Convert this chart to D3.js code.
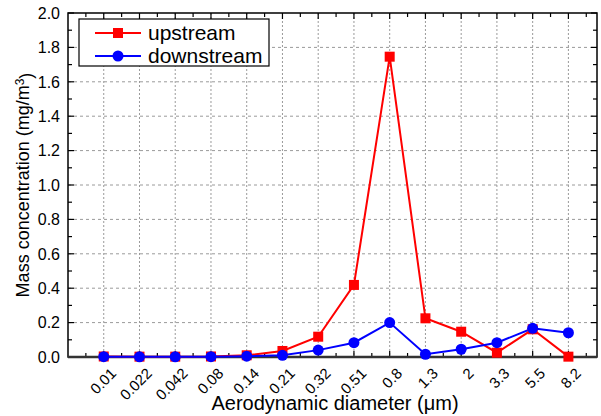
<!DOCTYPE html>
<html><head><meta charset="utf-8">
<script src="https://cdn.jsdelivr.net/npm/d3@7"></script>
<style>body{margin:0;background:#fff}svg{display:block}text{font-family:"Liberation Sans",Arial,sans-serif}</style>
</head><body><svg id="c" width="601" height="416"></svg>
<script>
const categories = ["0.01","0.022","0.042","0.08","0.14","0.21","0.32","0.51","0.8","1.3","2","3.3","5.5","8.2"];
const upstream   = [0.003,0.002,0.002,0.003,0.01,0.035,0.118,0.419,1.746,0.225,0.147,0.025,0.161,0.002];
const downstream = [0.002,0.001,0.001,0.002,0.005,0.01,0.04,0.083,0.2,0.016,0.045,0.083,0.167,0.141];
const yTicks = [0,0.2,0.4,0.6,0.8,1.0,1.2,1.4,1.6,1.8,2.0];

const svg = d3.select("#c");
const L=68,R=597,T=13,B=357;
const x = d3.scaleLinear().domain([0,14.8]).range([L,R]);
const y = d3.scaleLinear().domain([0,2]).range([B,T]);
const idx = categories.map((d,i)=>i+1);

// grid
const g = svg.append("g");
g.selectAll("line.h").data(yTicks.slice(1,-1)).join("line")
 .attr("x1",L).attr("x2",R).attr("y1",d=>y(d)).attr("y2",d=>y(d))
 .attr("stroke","#9a9a9a").attr("stroke-width",1).attr("stroke-dasharray","3,3");
g.selectAll("line.v").data(idx).join("line")
 .attr("x1",d=>x(d)).attr("x2",d=>x(d)).attr("y1",T).attr("y2",B)
 .attr("stroke","#9a9a9a").attr("stroke-width",1).attr("stroke-dasharray","2,2");

// axes ticks
const minorY = d3.range(0,2.0001,0.1);
const ax = svg.append("g").attr("stroke","#000");
minorY.forEach((v,i)=>{
  const len = (i%2===0)?6:4;
  ax.append("line").attr("x1",L).attr("x2",L+len).attr("y1",y(v)).attr("y2",y(v)).attr("stroke-width",1.2);
  ax.append("line").attr("x1",R).attr("x2",R-len).attr("y1",y(v)).attr("y2",y(v)).attr("stroke-width",1.2);
});
const minorX = d3.range(0.5,14.8,0.5);
minorX.forEach(v=>{
  const major = Math.abs(v-Math.round(v))<1e-6;
  const len = major?6:4;
  ax.append("line").attr("x1",x(v)).attr("x2",x(v)).attr("y1",B).attr("y2",B-len).attr("stroke-width",1.2);
  ax.append("line").attr("x1",x(v)).attr("x2",x(v)).attr("y1",T).attr("y2",T+len).attr("stroke-width",1.2);
});
svg.append("rect").attr("x",L).attr("y",T).attr("width",R-L).attr("height",B-T)
 .attr("fill","none").attr("stroke","#000").attr("stroke-width",1.5);
svg.append("line").attr("x1",L).attr("x2",R).attr("y1",B).attr("y2",B).attr("stroke","#333").attr("stroke-width",2.5);

// y labels
svg.append("g").selectAll("text").data(yTicks).join("text")
 .attr("x",L-8).attr("y",d=>y(d)).attr("dy","0.36em").attr("text-anchor","end")
 .attr("font-size",16).text(d=>d.toFixed(1));
// x labels
svg.append("g").selectAll("text").data(categories).join("text")
 .attr("transform",(d,i)=>`translate(${x(i+1)+6},${B+10}) rotate(-45)`)
 .attr("text-anchor","end").attr("dy","0.7em").attr("font-size",15).text(d=>d);

// titles
svg.append("text").attr("x",335).attr("y",410).attr("text-anchor","middle").attr("font-size",20)
 .text("Aerodynamic diameter (μm)");
const yt = svg.append("text").attr("transform",`translate(29,${(T+B)/2}) rotate(-90)`).attr("text-anchor","middle").attr("font-size",18);
yt.append("tspan").text("Mass concentration (mg/m");
yt.append("tspan").attr("dy","-0.45em").attr("font-size",12).text("3");
yt.append("tspan").attr("dy","0.45em").text(")");

// series
const line = d3.line().x((d,i)=>x(i+1)).y(d=>y(d));
svg.append("path").datum(upstream).attr("d",line).attr("fill","none").attr("stroke","#ff0000").attr("stroke-width",2);
svg.append("path").datum(downstream).attr("d",line).attr("fill","none").attr("stroke","#0000ff").attr("stroke-width",2);
svg.append("g").selectAll("rect").data(upstream).join("rect")
 .attr("x",(d,i)=>x(i+1)-5).attr("y",d=>y(d)-5).attr("width",10).attr("height",10).attr("fill","#ff0000");
svg.append("g").selectAll("circle").data(downstream).join("circle")
 .attr("cx",(d,i)=>x(i+1)).attr("cy",d=>y(d)).attr("r",5.5).attr("fill","#0000ff");

// legend
const lg = svg.append("g");
lg.append("rect").attr("x",79).attr("y",19).attr("width",190).attr("height",47).attr("fill","#fff").attr("stroke","#000").attr("stroke-width",1.2);
[["upstream","#ff0000","sq",33],["downstream","#0000ff","ci",56]].forEach(([t,c,m,yy])=>{
  lg.append("line").attr("x1",95).attr("x2",141).attr("y1",yy).attr("y2",yy).attr("stroke",c).attr("stroke-width",2);
  if(m==="sq") lg.append("rect").attr("x",113).attr("y",yy-5).attr("width",10).attr("height",10).attr("fill",c);
  else lg.append("circle").attr("cx",118).attr("cy",yy).attr("r",5.5).attr("fill",c);
  lg.append("text").attr("x",148).attr("y",yy).attr("dy","0.33em").attr("font-size",21).text(t);
});
</script></body></html>
